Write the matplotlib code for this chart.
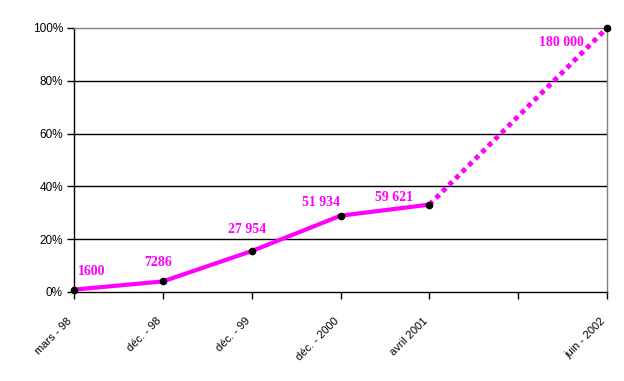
import matplotlib
matplotlib.use('Agg')
import matplotlib.pyplot as plt
import matplotlib.ticker as ticker

##############################################
### Donnees

categories = ['mars - 98', 'déc. - 98', 'déc. - 99', 'déc. - 2000', 'avril 2001', '', 'juin - 2002']
pos_x      = [0, 1, 2, 3, 4, 6]
pct        = [0.9, 4.0, 15.5, 28.9, 33.1, 100.0]
etiquettes = ['1600', '7286', '27 954', '51 934', '59 621', '180 000']
decalages  = [(18, 18), (-5, 19), (-5, 22), (-20, 13), (-35, 7), (-46, -15)]

magenta = '#FF00FF'

###############################################
### Figure

fig = plt.figure(figsize=(6.24, 3.81), dpi=100)
ax = fig.add_axes([74/624, 1 - 292/381, (607-74)/624, (292-28)/381])

# partie reelle (trait plein) puis projection (pointilles)
ax.plot(pos_x[:5], pct[:5], color=magenta, lw=3, solid_capstyle='butt', zorder=3, clip_on=False)
ax.plot(pos_x[4:], pct[4:], color=magenta, lw=3.5, linestyle=(0, (1, 0.9)), zorder=3, clip_on=False)
ax.plot(pos_x, pct, linestyle='none', marker='o', ms=4.5, color='black', zorder=4, clip_on=False)

for xx, yy, txt, off in zip(pos_x, pct, etiquettes, decalages):
    ax.annotate(txt, (xx, yy), xytext=off, textcoords='offset pixels',
                ha='center', va='center', color=magenta, fontweight='bold',
                fontsize=10, family='Liberation Serif', annotation_clip=False)

###############################################
### Axes

ax.set_xlim(0, 6)
ax.set_ylim(0, 100)
ax.set_yticks([0, 20, 40, 60, 80, 100])
ax.yaxis.set_major_formatter(ticker.FuncFormatter(lambda v, p: '%d%%' % v))
ax.set_xticks(range(7))
ax.set_xticklabels(categories, rotation=45, ha='right', rotation_mode='default')

for v in [20, 40, 60, 80]:
    ax.axhline(v, color='black', lw=1, zorder=1)

ax.spines['left'].set_color('black')
ax.spines['bottom'].set_color('black')
ax.spines['top'].set_color('#808080')
ax.spines['right'].set_color('#808080')
for s in ax.spines.values():
    s.set_linewidth(1)

ax.tick_params(axis='y', direction='out', length=5, width=1, labelsize=8.5, pad=3)
ax.tick_params(axis='x', direction='out', length=5, width=1, labelsize=8, pad=12)
for lab in ax.get_xticklabels() + ax.get_yticklabels():
    lab.set_family('Liberation Sans')

###############################################
### Imprimir

plt.savefig('out.png', dpi=100)
